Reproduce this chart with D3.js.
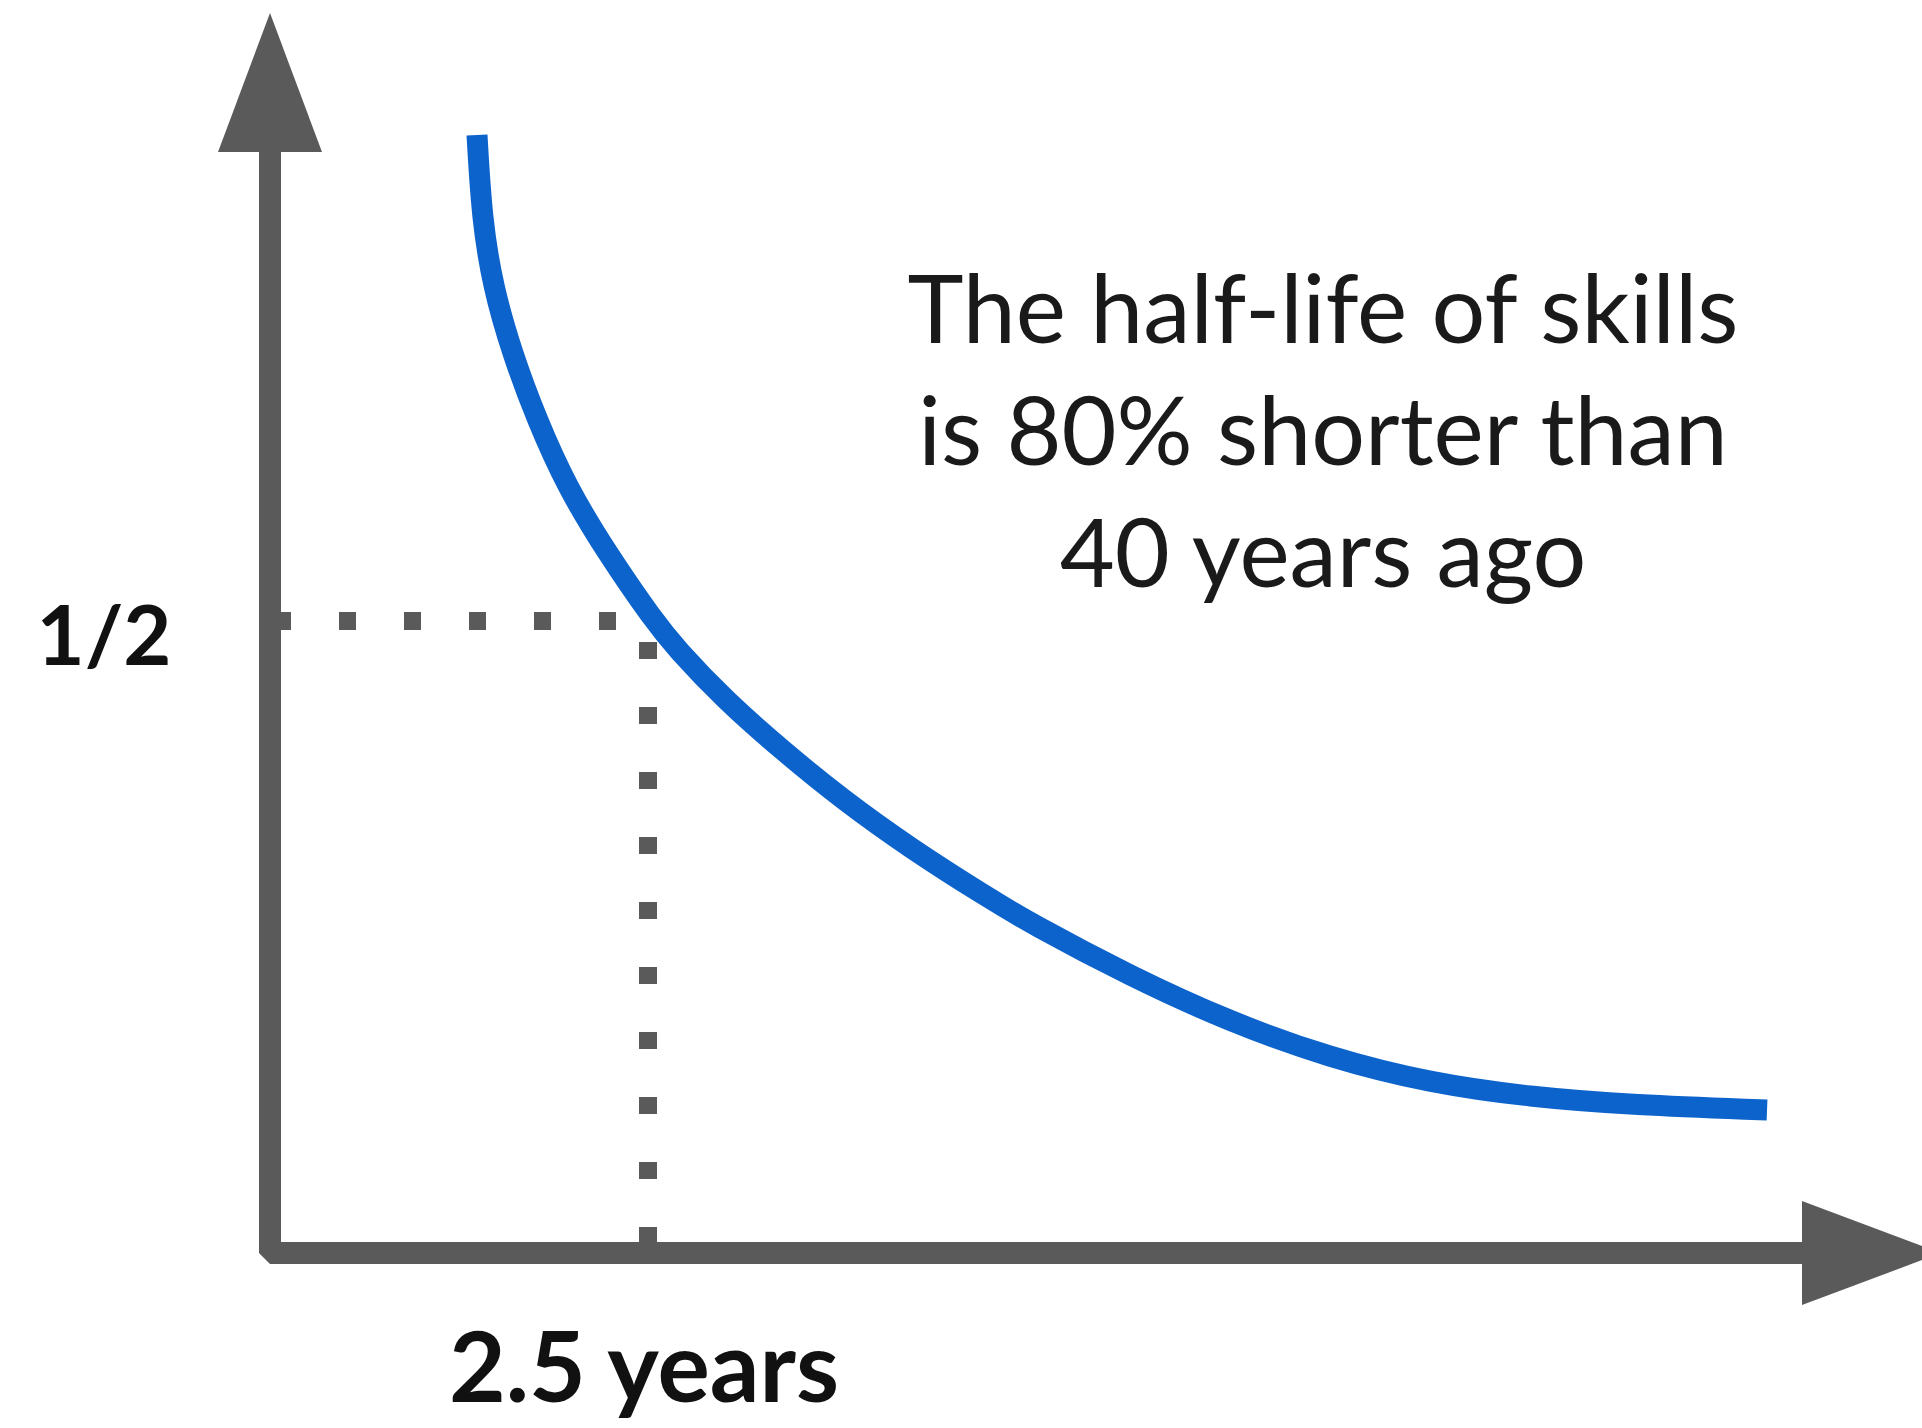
<!DOCTYPE html>
<html>
<head>
  <meta charset="utf-8">
  <title>Half-life of skills</title>
  <script src="https://d3js.org/d3.v7.min.js"></script>
  <style>
    body { margin: 0; background: #fff; }
    svg { display: block; }
  </style>
</head>
<body>
<script>
  // curve: years vs. share of a skill still useful
  const years     = [1.369, 1.402, 1.475, 1.601, 1.766, 1.964, 2.229, 2.540, 2.685, 3.009, 3.386, 3.790, 4.233, 4.742, 5.026, 5.688, 6.349, 7.011, 7.672, 8.333, 9.015, 9.901];
  const remaining = [0.8845, 0.8172, 0.7642, 0.7120, 0.6590, 0.6060, 0.5538, 0.5000, 0.4786, 0.4375, 0.3979, 0.3584, 0.3204, 0.2816, 0.2611, 0.2191, 0.1828, 0.1543, 0.1345, 0.1234, 0.1171, 0.1131];

  const halfLife = 2.5, halfValue = 0.5;
  const xLabel = "2.5 years", yLabel = "1/2";
  const note = ["The half-life of skills", "is 80% shorter than", "40 years ago"];

  const width = 1922, height = 1428;
  const axisColor = "#5a5a5a", curveColor = "#0d63cc";

  const svg = d3.select("body").append("svg")
    .attr("width", width)
    .attr("height", height);

  const x = d3.scaleLinear().domain([0, 10]).range([270, 1782]);
  const y = d3.scaleLinear().domain([0, 1]).range([1253, -11]);

  const x0 = x(0), y0 = y(0);
  const yTop = 152, xEnd = 1802, headLen = 139, headHalf = 52;

  // axes: one path so the corner gets the bevelled join
  svg.append("path")
    .attr("d", `M${x0},${yTop}V${y0}H${xEnd}`)
    .attr("fill", "none")
    .attr("stroke", axisColor)
    .attr("stroke-width", 22)
    .attr("stroke-linejoin", "bevel");

  svg.append("path")
    .attr("d", `M${x0 - headHalf},${yTop}L${x0},${yTop - headLen}L${x0 + headHalf},${yTop}Z`)
    .attr("fill", axisColor);

  svg.append("path")
    .attr("d", `M${xEnd},${y0 - headHalf}L${xEnd + headLen},${y0}L${xEnd},${y0 + headHalf}Z`)
    .attr("fill", axisColor);

  // dotted guides to the half-life point
  const dots = g => g
    .attr("stroke", axisColor)
    .attr("stroke-width", 18)
    .attr("stroke-dasharray", "17 48");

  svg.append("line")
    .attr("x1", x0).attr("x2", x(halfLife))
    .attr("y1", y(halfValue)).attr("y2", y(halfValue))
    .call(dots)
    .attr("stroke-dashoffset", 61);

  svg.append("line")
    .attr("x1", x(halfLife)).attr("x2", x(halfLife))
    .attr("y1", y(halfValue)).attr("y2", y0)
    .call(dots)
    .attr("stroke-dashoffset", 44);

  // decay curve (b-spline keeps it smooth through the hand-read points)
  const line = d3.line()
    .x((d, i) => x(years[i]))
    .y(d => y(d))
    .curve(d3.curveBasis);

  svg.append("path")
    .datum(remaining)
    .attr("d", line)
    .attr("fill", "none")
    .attr("stroke", curveColor)
    .attr("stroke-width", 21)
    .attr("stroke-linecap", "butt");

  // size a text so it spans a given width
  function fit(sel, target) {
    const w = sel.node().getComputedTextLength();
    const fs = parseFloat(sel.attr("font-size"));
    return fs * target / w;
  }

  const lbl = svg.append("g")
    .attr("font-family", "Lato, 'Open Sans', sans-serif")
    .attr("font-weight", 700)
    .attr("fill", "#111");

  const yl = lbl.append("text")
    .attr("x", 104).attr("y", 665)
    .attr("text-anchor", "middle")
    .attr("font-size", 100)
    .text(yLabel);
  yl.attr("font-size", fit(yl, 135));

  const xl = lbl.append("text")
    .attr("x", x(halfLife) - 4).attr("y", 1402)
    .attr("text-anchor", "middle")
    .attr("font-size", 100)
    .text(xLabel);
  xl.attr("font-size", fit(xl, 390));

  const block = svg.append("g")
    .attr("font-family", "Lato, 'Open Sans', sans-serif")
    .attr("fill", "#1a1a1a")
    .attr("text-anchor", "middle");

  const lines = block.selectAll("text")
    .data(note)
    .join("text")
      .attr("x", 1323)
      .attr("y", (d, i) => 343 + i * 122)
      .attr("font-size", 100)
      .text(d => d);

  const fs = fit(lines.filter((d, i) => i === 0), 831);
  lines.attr("font-size", fs);
</script>
</body>
</html>
